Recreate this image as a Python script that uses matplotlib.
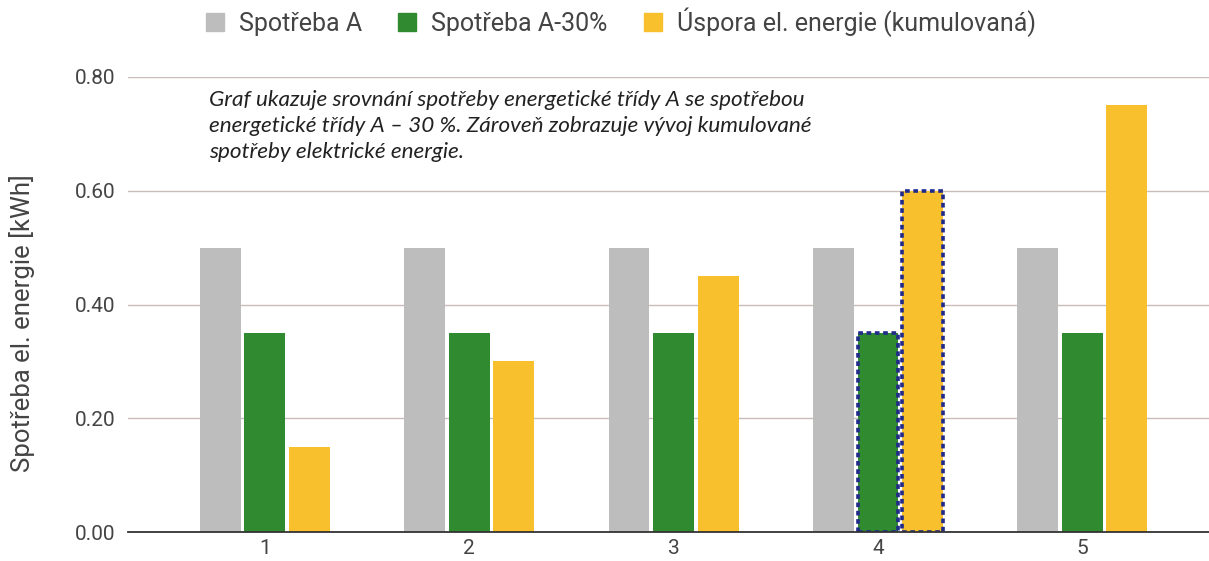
import numpy as np
import matplotlib.pyplot as plt
from matplotlib.patches import Patch

days = ['1', '2', '3', '4', '5']
spotreba_a = [0.50, 0.50, 0.50, 0.50, 0.50]
spotreba_a30 = [0.35, 0.35, 0.35, 0.35, 0.35]
uspora = [0.15, 0.30, 0.45, 0.60, 0.75]
series_names = ['Spotřeba A', 'Spotřeba A-30%', 'Úspora el. energie (kumulovaná)']
yticks = [0.0, 0.2, 0.4, 0.6, 0.8]
highlight = 3  # bars of day 4 get a dotted frame

GRAY = '#bdbdbd'
GREEN = '#2f8a30'
YELLOW = '#f9c02e'
NAVY = '#1f2a8a'
TXT = '#444444'

plt.rcParams['font.family'] = ['Roboto', 'DejaVu Sans']

W, H = 1209, 561
fig = plt.figure(figsize=(W / 100, H / 100), dpi=100)
ax = fig.add_axes([128 / W, 1 - 532 / H, 1 - 128 / W, (532 - 77) / H])

x = np.arange(len(days))
w = 0.2
step = 0.218
for k, (vals, col) in enumerate(zip([spotreba_a, spotreba_a30, uspora], [GRAY, GREEN, YELLOW])):
    bars = ax.bar(x + (k - 1) * step, vals, width=w, color=col, zorder=3)
    if k > 0:
        b = bars[highlight]
        b.set_edgecolor(NAVY)
        b.set_linestyle((0, (1.3, 1.0)))
        b.set_linewidth(2.6)

ax.set_xlim(-0.67, 4.62)
ax.set_ylim(0, 0.80)
ax.set_yticks(yticks)
ax.set_yticklabels([f'{v:.2f}' for v in yticks])
ax.set_xticks(x)
ax.set_xticklabels(days)
ax.tick_params(axis='both', length=0, labelsize=15, colors=TXT)
ax.tick_params(axis='x', pad=5)
ax.tick_params(axis='y', pad=9)
ax.grid(axis='y', color='#cbbcbc', linewidth=1, zorder=0)
for s in ['top', 'right', 'left']:
    ax.spines[s].set_visible(False)
ax.spines['bottom'].set_color('#333333')
ax.spines['bottom'].set_linewidth(1.3)
ax.spines['bottom'].set_zorder(4)

fig.text(22 / W, 1 - 323 / H, 'Spotřeba el. energie [kWh]', rotation=90,
         ha='center', va='center', fontsize=18.5, color=TXT)

# note block, anchored on the baseline of its last line
ax.text(209 / W, 1 - 158 / H,
        'Graf ukazuje srovnání spotřeby energetické třídy A se spotřebou\n'
        'energetické třídy A – 30 %. Zároveň zobrazuje vývoj kumulované\n'
        'spotřeby elektrické energie.',
        transform=fig.transFigure, ha='left', va='baseline', fontsize=16.2,
        family=['Lato', 'DejaVu Sans'], style='italic', color='#222222',
        linespacing=1.38)

handles = [Patch(color=c) for c in [GRAY, GREEN, YELLOW]]
fig.legend(handles, series_names, loc='center', bbox_to_anchor=(621 / W, 1 - 22 / H),
           ncol=3, frameon=False, fontsize=18, handlelength=0.72, handleheight=0.72,
           handletextpad=0.6, columnspacing=1.45, labelcolor=TXT,
           borderpad=0, borderaxespad=0)

fig.savefig('out.png', dpi=100)
